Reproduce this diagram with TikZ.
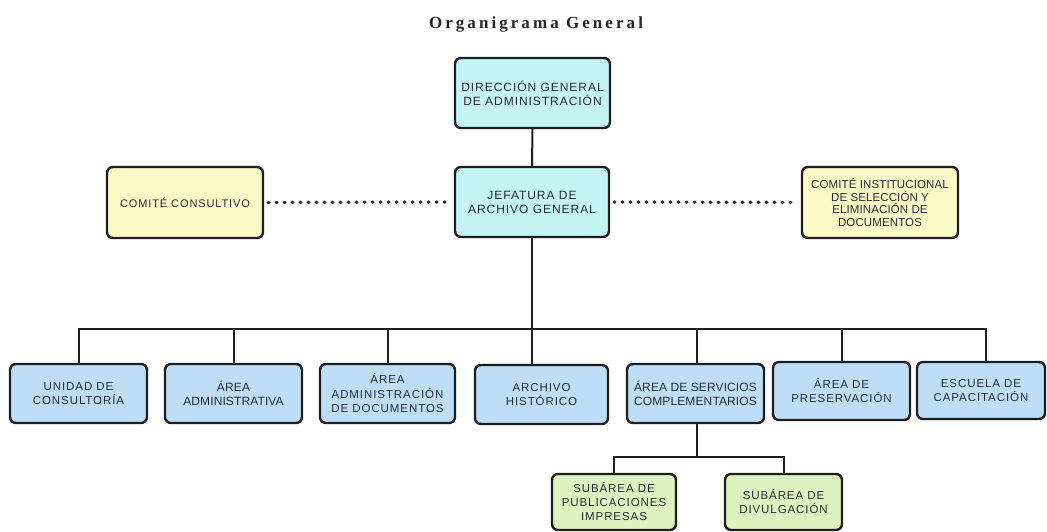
\documentclass[tikz,border=0pt]{standalone}
\usepackage{fontspec}
\setmainfont{Liberation Sans}
\newfontfamily\boxfont[LetterSpace=8]{Liberation Sans}
\newfontfamily\tightfont[LetterSpace=1]{Liberation Sans}
\newfontfamily\titlefont[LetterSpace=18]{Liberation Serif}
\definecolor{cyanbox}{HTML}{C4F4F6}
\definecolor{yellowbox}{HTML}{FAFAC6}
\definecolor{bluebox}{HTML}{BEDDF6}
\definecolor{greenbox}{HTML}{DDF2BE}
\definecolor{txt}{HTML}{262C34}
\definecolor{edge}{HTML}{1E1E1E}
\tikzset{
  orgbox/.style={draw=edge, line width=2.4pt, rounded corners=6pt, align=center,
    text=txt, inner sep=1pt, font=\boxfont\fontsize{12}{14}\selectfont},
  tight/.style={font=\boxfont\fontsize{11.5}{14}\selectfont},
  link/.style={draw=edge, line width=2pt},
  dotlink/.style={draw=edge, line width=3.4pt, line cap=round, dash pattern=on 0.6pt off 7.4pt}
}
\begin{document}
\begin{tikzpicture}[x=1pt,y=-1pt]
\useasboundingbox (0,0) rectangle (1047,531);
\node[font=\titlefont\bfseries\fontsize{17}{20}\selectfont, text=black!85] (title) at (536,24) {Organigrama General};
% top
\node[orgbox, fill=cyanbox, minimum width=155pt, minimum height=70pt] (dir) at (532.5,93) {DIRECCIÓN GENERAL\\DE ADMINISTRACIÓN};
\node[orgbox, fill=cyanbox, minimum width=154pt, minimum height=70pt] (jef) at (532,202) {JEFATURA DE\\ARCHIVO GENERAL};
\node[orgbox, fill=yellowbox, minimum width=156pt, minimum height=71pt, font=\boxfont\fontsize{11}{12}\selectfont] (cc) at (185,202.5) {COMITÉ CONSULTIVO};
\node[orgbox, fill=yellowbox, minimum width=156pt, minimum height=71pt, font=\tightfont\fontsize{11.5}{12.7}\selectfont] (ci) at (880,202.5) {COMITÉ INSTITUCIONAL\\DE SELECCIÓN Y\\ELIMINACIÓN DE\\DOCUMENTOS};
% second row
\node[orgbox, fill=bluebox, minimum width=137pt, minimum height=59pt, font=\boxfont\fontsize{11.5}{14}\selectfont] (b1) at (78.5,393.5) {UNIDAD DE\\CONSULTORÍA};
\node[orgbox, fill=bluebox, minimum width=137pt, minimum height=59pt, font=\tightfont\fontsize{12}{14}\selectfont] (b2) at (233.5,393.5) {ÁREA\\ADMINISTRATIVA};
\node[orgbox, fill=bluebox, minimum width=135pt, minimum height=59pt, font=\boxfont\fontsize{11.5}{14.5}\selectfont] (b3) at (387.5,393.5) {ÁREA\\ADMINISTRACIÓN\\DE DOCUMENTOS};
\node[orgbox, fill=bluebox, minimum width=133pt, minimum height=59pt, font=\boxfont\fontsize{11.5}{14}\selectfont] (b4) at (541.5,394.5) {ARCHIVO\\HISTÓRICO};
\node[orgbox, fill=bluebox, minimum width=137pt, minimum height=59pt, font=\tightfont\fontsize{12}{14}\selectfont] (b5) at (695.5,393.5) {ÁREA DE SERVICIOS\\COMPLEMENTARIOS};
\node[orgbox, fill=bluebox, minimum width=137pt, minimum height=58pt, font=\boxfont\fontsize{11.5}{14}\selectfont] (b6) at (841.5,391) {ÁREA DE\\PRESERVACIÓN};
\node[orgbox, fill=bluebox, minimum width=128pt, minimum height=57pt, font=\boxfont\fontsize{11.5}{14}\selectfont] (b7) at (981,390.5) {ESCUELA DE\\CAPACITACIÓN};
% third row
\node[orgbox, fill=greenbox, minimum width=124pt, minimum height=56pt, font=\boxfont\fontsize{11.5}{14}\selectfont] (s1) at (614,502) {SUBÁREA DE\\PUBLICACIONES\\IMPRESAS};
\node[orgbox, fill=greenbox, minimum width=117pt, minimum height=56pt, font=\boxfont\fontsize{11.5}{14}\selectfont] (s2) at (783.5,502) {SUBÁREA DE\\DIVULGACIÓN};
% connectors
\coordinate (bus) at (0,329);
\coordinate (subbus) at (0,457);
\draw[link] (dir.south) -- (jef.north);
\draw[link] (jef.south) -- (jef.south |- b4.north);
\draw[link] (b1.north) -- (b1.north |- bus) -- ([xshift=5pt]b7.north |- bus) -- ([xshift=5pt]b7.north);
\draw[link] (b2.north) -- (b2.north |- bus);
\draw[link] (b3.north) -- (b3.north |- bus);
\draw[link] ([xshift=1.5pt]b5.north) -- ([xshift=1.5pt]b5.north |- bus);
\draw[link] (b6.north) -- (b6.north |- bus);
\draw[link] ([xshift=1.5pt]b5.south) -- ([xshift=1.5pt]b5.south |- subbus);
\draw[link] (s1.north) -- (s1.north |- subbus) -- (s2.north |- subbus) -- (s2.north);
\draw[dotlink] ([xshift=4pt]cc.east) -- ([xshift=-3pt]jef.west);
\draw[dotlink] ([xshift=4pt]jef.east) -- ([xshift=-3pt]ci.west);
\end{tikzpicture}
\end{document}
